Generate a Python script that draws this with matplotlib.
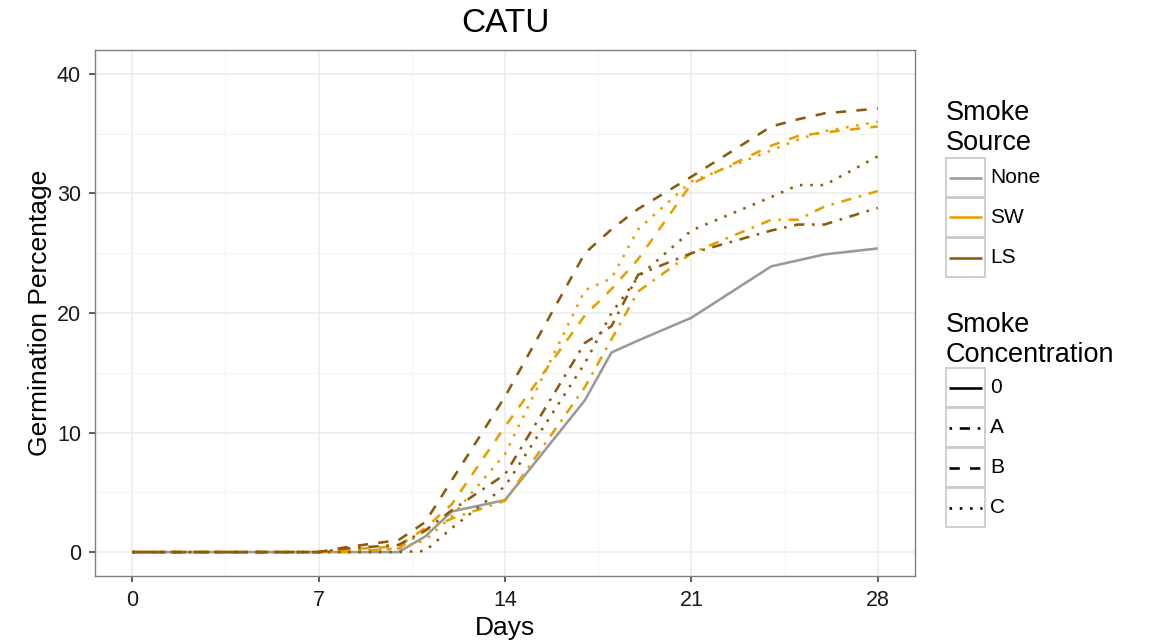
"""Germination curves for CATU by smoke source and concentration."""

import matplotlib

matplotlib.use("Agg")
from matplotlib import pyplot as plt
from matplotlib.lines import Line2D
from matplotlib.patches import Rectangle
from matplotlib.ticker import MultipleLocator

plt.rcParams["font.family"] = ["Liberation Sans", "DejaVu Sans"]

# observation days
days = [0, 7, 8, 10, 11, 12, 14, 17, 18, 19, 21, 24, 25, 26, 28]

# germination percentage per treatment
none_0 = [0, 0, 0, 0, 1.3, 3.4, 4.35, 12.7, 16.7, 17.7, 19.6, 23.9, 24.4, 24.9, 25.4]
sw_a = [0, 0, 0, 0.3, 1.8, 2.8, 4.3, 13.8, 17.8, 21.8, 25.0, 27.8, 27.8, 28.9, 30.2]
sw_b = [0, 0, 0.2, 0.5, 2.0, 4.0, 10.5, 19.8, 22.0, 24.5, 30.8, 34.0, 34.8, 35.1, 35.6]
sw_c = [0, 0, 0.1, 0.3, 1.0, 3.0, 8.2, 21.9, 22.9, 27.0, 31.0, 33.6, 34.5, 35.2, 36.0]
ls_a = [0, 0, 0.3, 0.6, 1.8, 3.5, 6.5, 17.5, 18.9, 23.2, 25.0, 26.9, 27.4, 27.4, 28.8]
ls_b = [0, 0, 0.4, 1.0, 2.5, 6.0, 13.0, 25.0, 27.0, 28.7, 31.4, 35.6, 36.2, 36.7, 37.1]
ls_c = [0, 0, 0, 0, 0.1, 2.0, 5.5, 15.8, 20.0, 23.0, 26.9, 29.7, 30.7, 30.7, 33.1]

sources = ["None", "SW", "LS"]
concentrations = ["0", "A", "B", "C"]
source_colors = {"None": "#999999", "SW": "#E69F00", "LS": "#8C5A0A"}
conc_dashes = {"0": None, "A": (1, 3, 4, 3), "B": (4, 4), "C": (1, 3)}

series = [
    ("None", "0", none_0),
    ("SW", "A", sw_a),
    ("SW", "B", sw_b),
    ("SW", "C", sw_c),
    ("LS", "A", ls_a),
    ("LS", "B", ls_b),
    ("LS", "C", ls_c),
]

W, H = 1154, 644
LW = 1.85


def line_style(color, dashes):
    """Style kwargs for one ggplot-like line."""
    style = dict(color=color, lw=LW, dash_capstyle="butt", solid_capstyle="butt")
    if dashes is not None:
        style["dashes"] = dashes
    return style


fig = plt.figure(figsize=(W / 100, H / 100), dpi=100)
ax = fig.add_axes([95 / W, 1 - 576 / H, (915 - 95) / W, (576 - 50) / H])

for source, conc, values in series:
    ax.plot(days, values, **line_style(source_colors[source], conc_dashes[conc]))

ax.set_xlim(-1.4, 29.4)
ax.set_ylim(-2, 42)
ax.xaxis.set_major_locator(MultipleLocator(7))
ax.xaxis.set_minor_locator(MultipleLocator(3.5))
ax.yaxis.set_major_locator(MultipleLocator(10))
ax.yaxis.set_minor_locator(MultipleLocator(5))
ax.grid(which="major", color="#EBEBEB", lw=1.1)
ax.grid(which="minor", color="#F4F4F4", lw=0.8)
ax.set_axisbelow(True)
for spine in ax.spines.values():
    spine.set_color("#7F7F7F")
    spine.set_linewidth(1.0)
ax.tick_params(which="major", length=4, width=1.1, color="#333333", pad=6,
               labelsize=15.5, labelcolor="#1A1A1A")
ax.tick_params(which="minor", length=0)

ax.set_title("CATU", fontsize=24, pad=13)
ax.set_xlabel("Days", fontsize=19)
ax.set_ylabel("Germination Percentage", fontsize=19)
ax.xaxis.label.set_va("center")
ax.yaxis.label.set_va("center")
ax.xaxis.set_label_coords(0.5, (576 - 628) / 526)
ax.yaxis.set_label_coords((40 - 95) / 820, 0.5)


def fx(px):
    return px / W


def fy(py):
    return 1 - py / H


def draw_legend(title_lines, title_top, labels, styles, key_top):
    """Draw a ggplot-like legend block at pixel positions."""
    for i, line in enumerate(title_lines):
        fig.text(fx(946), fy(title_top + 30 * i), line, fontsize=19.5,
                 va="top", ha="left")
    for i, (label, (color, dashes)) in enumerate(zip(labels, styles)):
        top = key_top + 40 * i
        fig.patches.append(Rectangle((fx(946), fy(top + 39)), 39 / W, 39 / H,
                                     transform=fig.transFigure, fill=False,
                                     edgecolor="#CCCCCC", lw=1.3))
        cy = top + 19.5
        fig.add_artist(Line2D([fx(949), fx(982)], [fy(cy), fy(cy)],
                              transform=fig.transFigure,
                              **line_style(color, dashes)))
        fig.text(fx(990), fy(cy), label, fontsize=15, va="center", ha="left")


draw_legend(["Smoke", "Source"], 100, sources,
            [(source_colors[s], None) for s in sources], 158)
draw_legend(["Smoke", "Concentration"], 312, concentrations,
            [("#000000", conc_dashes[c]) for c in concentrations], 368)

fig.savefig("out.png", dpi=100)
